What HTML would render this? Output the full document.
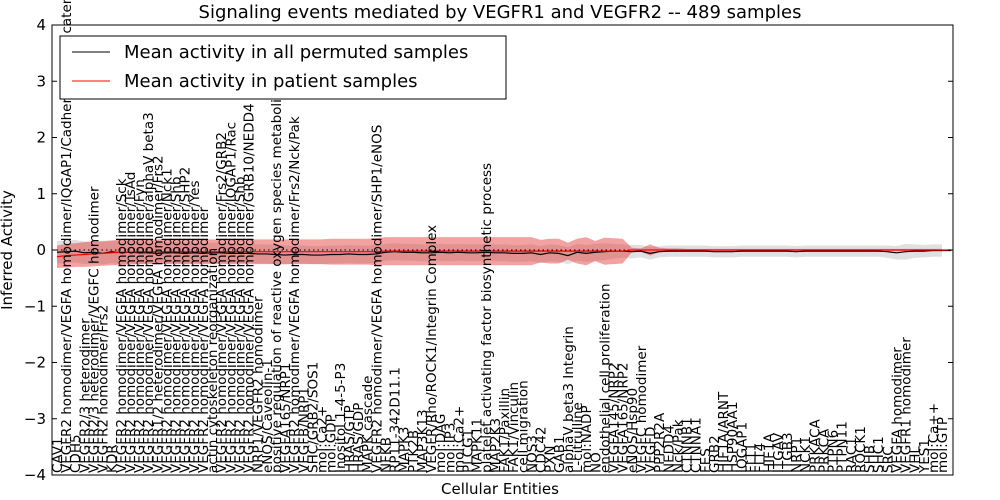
<!DOCTYPE html>
<html><head><meta charset="utf-8"><style>
body{margin:0;background:#fff;}
svg{display:block;font-family:"DejaVu Sans","Liberation Sans",sans-serif;}
</style></head><body>
<svg id="chart" width="1000" height="500">
<text x="500" y="18" text-anchor="middle" font-size="18">Signaling events mediated by VEGFR1 and VEGFR2 -- 489 samples</text>
<text transform="translate(12,250) rotate(-90)" text-anchor="middle" font-size="15">Inferred Activity</text>
<text x="500" y="494" text-anchor="middle" font-size="15">Cellular Entities</text>
<g id="bands"></g><g id="lines"></g><g id="labels"></g><g id="axes"></g>
<g>
<rect x="60" y="36" width="446" height="63" fill="#fff" stroke="#000"/>
<line x1="72" y1="52" x2="110" y2="52" stroke="#000"/>
<text x="124" y="58" font-size="18">Mean activity in all permuted samples</text>
<line x1="72" y1="81" x2="110" y2="81" stroke="#f00"/>
<text x="124" y="87" font-size="18">Mean activity in patient samples</text>
</g>
</svg>
<script>
const categories=["CAV1","VEGFR2 homodimer/VEGFA homodimer/IQGAP1/Cadherin 5/beta catenin","CDH5","VEGFR2/3 heterodimer","VEGFR2/3 heterodimer/VEGFC homodimer","VEGFR2 homodimer/Frs2","KDR","VEGFR2 homodimer/VEGFA homodimer/Sck","VEGFR2 homodimer/VEGFA homodimer/TsAd","VEGFR2 homodimer/VEGFA homodimer/Fyn","VEGFR2 homodimer/VEGFA homodimer/alphaV beta3","VEGFR1/2 heterodimer/VEGFA homodimer/Frs2","VEGFR2 homodimer/VEGFA homodimer/Nck1","VEGFR2 homodimer/VEGFA homodimer/Shb","VEGFR2 homodimer/VEGFA homodimer/SHP2","VEGFR2 homodimer/VEGFA homodimer/Yes","VEGFR2 homodimer/VEGFA homodimer","actin cytoskeleton reorganization","VEGFR2 homodimer/VEGFA homodimer/Frs2/GRB2","VEGFR2 homodimer/VEGFA homodimer/IQGAP1/Rac","VEGFR2 homodimer/VEGFA homodimer/Shb","VEGFR2 homodimer/VEGFA homodimer/GRB10/NEDD4","NRP1/VEGFR2 homodimer","eNOS/Caveolin-1","positive regulation of reactive oxygen species metabolic process","VEGFA165/NRP1","VEGFR2 homodimer/VEGFA homodimer/Frs2/Nck/Pak","VEGFB/NRP1","SHC/GRB2/SOS1","mol:Ca2+","mol:GDP","Inositol 1-4-5-P3","HRAS/GTP","HRAS/GDP","MAPK cascade","VEGFR2 homodimer/VEGFA homodimer/SHP1/eNOS","NFKB","RP11-342D11.1","MAPK3","PTK2B","MAP3K13","VEGFR/Rho/ROCK1/Integrin Complex","mol:DAG","mol:IP3","mol:Ca2+","PLCG1","MAPK11","platelet activating factor biosynthetic process","MAP2K3","FAK1/Paxillin","FAK1/Vinculin","cell migration","NOS3","CDC42","PXN","GAB1","alphaV beta3 Integrin","L-citrulline","mol:NADP","NO","endothelial cell proliferation","VEGFA145/NRP2","VEGFA165/NRP2","eNOS/Hsp90","VEGFC homodimer","VEGFD","PPP2R2A","NEDD4","Nck/Pak","CTNNB1","CTNNA1","FES","GRB2","HIF1A/ARNT","HSP90AA1","IQGAP1","FLT1","FLT4","HIF1A","ITGAV","ITGB3","NRP1","NCK1","PRKACA","PRKCA","PTPN6","PTPN11","RAC1","ROCK1","SHB","SHC1","SRC","VEGFA homodimer","VEGFR1 homodimer","VHL","YES1","mol:Ca++","mol:GTP"];
const meanPerm=[-0.04,-0.03,-0.02,-0.05,-0.04,-0.06,-0.03,-0.05,-0.04,-0.05,
-0.05,-0.06,-0.05,-0.05,-0.06,-0.05,-0.06,-0.05,-0.05,-0.06,
-0.06,-0.06,-0.07,-0.07,-0.08,-0.09,-0.08,-0.08,-0.09,-0.09,
-0.08,-0.08,-0.07,-0.08,-0.08,-0.07,-0.04,-0.03,-0.04,-0.04,
-0.05,-0.05,-0.04,-0.05,-0.04,-0.05,-0.05,-0.04,-0.05,-0.05,
-0.06,-0.06,-0.05,-0.08,-0.05,-0.06,-0.1,-0.04,-0.06,-0.04,
-0.03,-0.02,-0.02,-0.03,-0.02,-0.06,-0.03,-0.02,-0.02,-0.02,
-0.02,-0.02,-0.03,-0.03,-0.03,-0.02,-0.02,-0.02,-0.02,-0.02,
-0.02,-0.03,-0.02,-0.02,-0.02,-0.02,-0.02,-0.02,-0.02,-0.02,
-0.02,-0.03,-0.05,-0.03,-0.02,-0.02,-0.01,-0.01,-0.01];
const meanPat=[-0.12,-0.1,-0.09,-0.08,-0.07,-0.06,-0.05,-0.04,-0.04,-0.03,
-0.03,-0.03,-0.03,-0.03,-0.03,-0.03,-0.03,-0.03,-0.03,-0.03,
-0.03,-0.03,-0.03,-0.03,-0.03,-0.03,-0.03,-0.03,-0.03,-0.03,
-0.03,-0.03,-0.03,-0.03,-0.03,-0.03,-0.02,-0.02,-0.02,-0.02,
-0.02,-0.02,-0.02,-0.02,-0.02,-0.02,-0.02,-0.02,-0.02,-0.02,
-0.02,-0.02,-0.02,-0.02,-0.02,-0.02,-0.02,-0.02,-0.02,-0.02,
-0.02,-0.02,-0.02,0,0,0,0,0,0,0,
0,0,0,0,0,0,0,0,0,0,
0,0,0,0,0,0,0,0,0,0,
0,0,0,0,0,0,0,0,0];
const sdPerm=[0.2,0.2,0.2,0.2,0.2,0.2,0.2,0.2,0.2,0.2,
0.19,0.19,0.19,0.19,0.19,0.18,0.18,0.18,0.18,0.18,
0.17,0.17,0.17,0.17,0.17,0.17,0.16,0.16,0.16,0.16,
0.16,0.16,0.16,0.16,0.16,0.16,0.15,0.15,0.15,0.15,
0.15,0.15,0.15,0.15,0.15,0.15,0.15,0.15,0.15,0.15,
0.15,0.15,0.15,0.15,0.15,0.15,0.15,0.15,0.15,0.15,
0.15,0.13,0.12,0.12,0.11,0.11,0.1,0.1,0.1,0.1,
0.1,0.1,0.1,0.1,0.1,0.1,0.1,0.1,0.1,0.1,
0.1,0.1,0.1,0.1,0.1,0.1,0.1,0.1,0.1,0.1,
0.1,0.11,0.12,0.14,0.12,0.11,0.11,0.11,0.11];
const sdPat=[0.2,0.21,0.21,0.22,0.22,0.22,0.22,0.23,0.22,0.22,
0.22,0.22,0.22,0.22,0.22,0.22,0.22,0.22,0.22,0.22,
0.22,0.22,0.22,0.22,0.22,0.22,0.22,0.22,0.22,0.22,
0.23,0.23,0.23,0.23,0.23,0.24,0.25,0.25,0.25,0.25,
0.25,0.25,0.25,0.25,0.25,0.25,0.25,0.25,0.25,0.25,
0.25,0.25,0.25,0.2,0.22,0.22,0.15,0.22,0.25,0.18,
0.24,0.23,0.22,0.04,0.03,0.1,0.04,0.03,0.03,0.02,
0.02,0.02,0.02,0.02,0.02,0.02,0.02,0.02,0.02,0.02,
0.02,0.02,0.02,0.02,0.02,0.02,0.02,0.02,0.02,0.02,
0.02,0.02,0.02,0.02,0.02,0.02,0.02,0.02,0.02];
const yTicks=[-4,-3,-2,-1,0,1,2,3,4];
const NS="http://www.w3.org/2000/svg";
const L=52,R=953,T=25,B=475;
const n=categories.length;
function xs(i){return 57+i*(942-57)/(n-1);}
function ys(v){return T+(4-v)*(B-T)/8;}
function mk(tag,attrs,parent){const e=document.createElementNS(NS,tag);for(const k in attrs)e.setAttribute(k,attrs[k]);parent.appendChild(e);return e;}
const bands=document.getElementById('bands'),lines=document.getElementById('lines'),labs=document.getElementById('labels'),axes=document.getElementById('axes');
function band(mean,sd,fill,op){let up=[],dn=[];for(let i=0;i<n;i++){up.push(xs(i)+','+ys(mean[i]+sd[i]));dn.unshift(xs(i)+','+ys(mean[i]-sd[i]));}return mk('polygon',{points:up.concat(dn).join(' '),fill:fill,'fill-opacity':op},bands);}
const b1=band(meanPerm,sdPerm,'#bbbbbb',0.45);


const b2=band(meanPat,sdPat,'#e53030',0.45);


const zl=mk('line',{x1:L,x2:R,y1:ys(0),y2:ys(0),stroke:'#000','stroke-dasharray':'1.5,3'},lines);


function line(arr,col){return mk('polyline',{points:arr.map((v,i)=>xs(i)+','+ys(v)).join(' '),fill:'none',stroke:col,'stroke-width':1.2},lines);}
const l1=line(meanPerm,'#000');


const l2=line(meanPat,'#f00');


categories.forEach((c,i)=>{const x=xs(i)+5;const t=mk('text',{transform:`translate(${x},473) rotate(-90)`,'font-size':13.5},labs);t.textContent=c;

});
const fr=mk('rect',{x:L,y:T,width:R-L,height:B-T,fill:'none',stroke:'#000'},axes);


yTicks.forEach(v=>{const y=ys(v);mk('line',{x1:L,x2:L+5,y1:y,y2:y,stroke:'#000'},axes);mk('line',{x1:R,x2:R-5,y1:y,y2:y,stroke:'#000'},axes);
const t=mk('text',{x:L-6,y:y+5,'text-anchor':'end','font-size':15},axes);t.textContent=(v<0?'\u2212'+(-v):v);

});
</script>
</body></html>
